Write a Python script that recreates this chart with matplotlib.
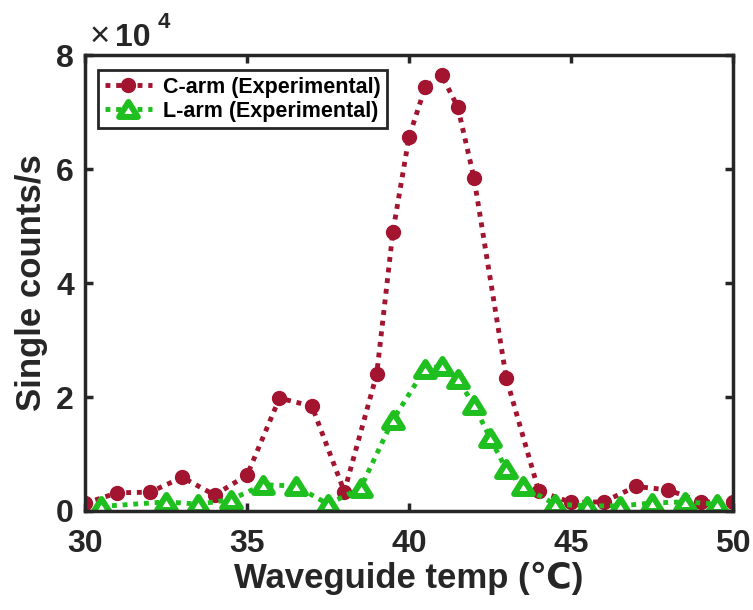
import numpy as np
import matplotlib
matplotlib.use('Agg')
import matplotlib.pyplot as plt
from matplotlib.path import Path
from matplotlib.ticker import FuncFormatter

plt.rcParams['font.family'] = ['Liberation Sans', 'DejaVu Sans']
plt.rcParams['font.weight'] = 'bold'

# C-arm single counts
c_temp = [30, 31, 32, 33, 34, 35, 36, 37, 38, 39, 39.5, 40, 40.5, 41, 41.5, 42,
          43, 44, 45, 46, 47, 48, 49, 50]
c_counts = [1350, 3200, 3300, 5900, 2800, 6300, 19800, 18400, 3400, 24000, 49000,
            65700, 74400, 76500, 70900, 58500, 23300, 3500, 1500, 1600, 4300, 3700,
            1600, 1600]

# L-arm single counts
l_temp = [30.5, 32.5, 33.5, 34.5, 35.5, 36.5, 37.5, 38.5, 39.5, 40.5, 41, 41.5,
          42, 42.5, 43, 43.5, 44.5, 45.5, 46.5, 47.5, 48.5, 49.5]
l_counts = [800, 1600, 1200, 2000, 4600, 4400, 1200, 4000, 16000, 25000, 25400,
            23100, 18600, 12800, 7300, 4300, 1200, 900, 900, 1400, 1600, 1200]

x_ticks = [30, 35, 40, 45, 50]
y_ticks = [0, 20000, 40000, 60000, 80000]

red = '#A2142F'
green = '#1EBF1E'
dark = '#262626'
dots = (0, (1, 1.2))
# squat closed triangle, wider than tall
tri = Path([(0, 0.8), (-1, -0.8), (1, -0.8), (0, 0.8)],
           [Path.MOVETO, Path.LINETO, Path.LINETO, Path.CLOSEPOLY])

fig = plt.figure(figsize=(7.53, 6.10), dpi=100)
ax = fig.add_axes([0.113, 0.1623, 0.8606, 0.7475])

ax.plot(c_temp, c_counts, linestyle=dots, color=red, lw=3.5, marker='o', ms=10,
        mfc=red, mec=red, label='C-arm (Experimental)')
ax.plot(l_temp, l_counts, linestyle=dots, color=green, lw=3.5, marker=tri, ms=13.5,
        mfc='white', mec=green, mew=4.3, label='L-arm (Experimental)')

ax.set_xlim(30, 50)
ax.set_ylim(0, 80000)
ax.set_xticks(x_ticks)
ax.set_yticks(y_ticks)
ax.yaxis.set_major_formatter(FuncFormatter(lambda v, p: f'{v / 1e4:g}'))

for s in ax.spines.values():
    s.set_linewidth(2.5)
    s.set_color(dark)
ax.tick_params(direction='in', length=6, width=2.5, color=dark, top=True,
               right=True, labelsize=23, labelcolor=dark)
ax.tick_params(axis='x', pad=13)
ax.tick_params(axis='y', pad=8)
for lab in ax.get_xticklabels() + ax.get_yticklabels():
    lab.set_fontweight('bold')

ax.set_xlabel('Waveguide temp (℃)', fontsize=25, fontweight='bold', color=dark,
              labelpad=2)
ax.set_ylabel('Single counts/s', fontsize=25, fontweight='bold', color=dark,
              labelpad=6)

# exponent label above the y axis
fig.text(0.1195, 0.940, '×', fontsize=25, color=dark, fontweight='normal',
         ha='left', va='center')
fig.text(0.153, 0.9246, '10', fontsize=23, color=dark, fontweight='bold',
         ha='left', va='baseline')
fig.text(0.209, 0.954, '4', fontsize=16, color=dark, fontweight='bold',
         ha='left', va='baseline')

leg = ax.legend(loc='upper left', bbox_to_anchor=(0.020, 0.967),
                prop={'weight': 'bold', 'size': 15.5}, frameon=True, fancybox=False,
                handlelength=2.2, borderpad=0.3, labelspacing=0.15,
                handletextpad=0.5, borderaxespad=0, framealpha=1)
leg.get_frame().set_edgecolor(dark)
leg.get_frame().set_linewidth(2)

fig.savefig('out.png', dpi=100)
